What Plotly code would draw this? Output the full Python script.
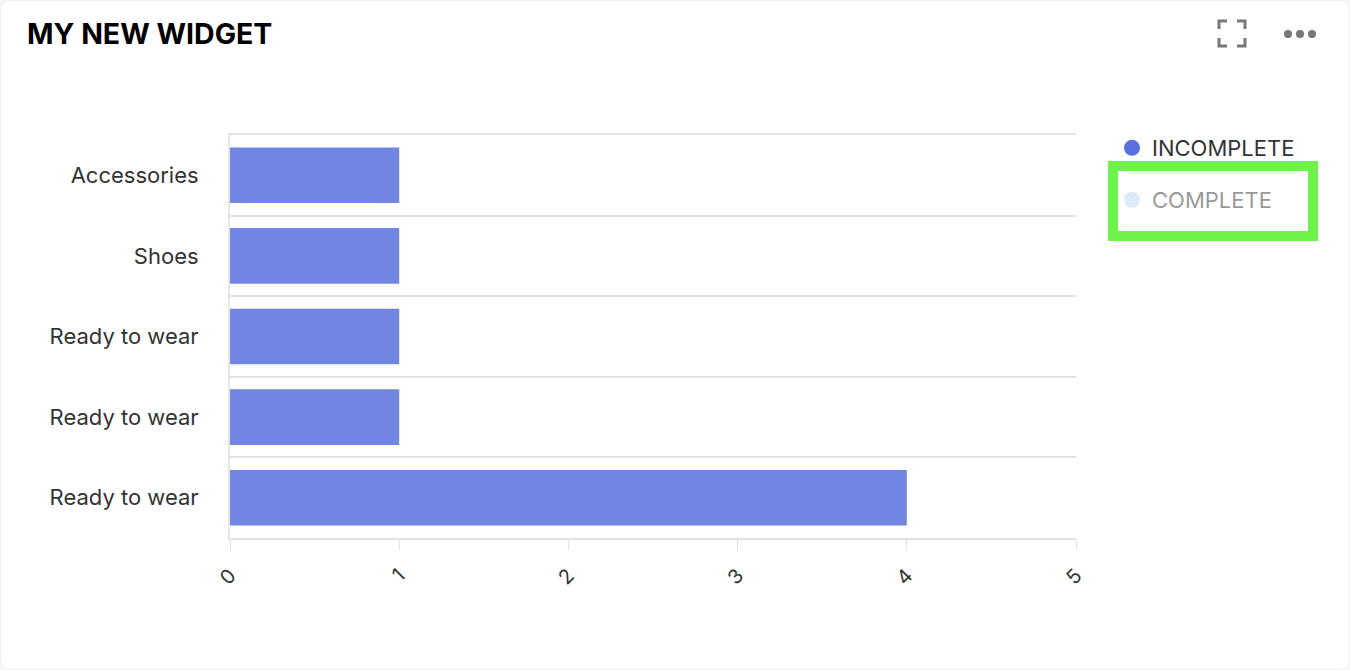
import plotly.graph_objects as go

categories = ["Accessories", "Shoes", "Ready to wear", "Ready to wear", "Ready to wear"]
incomplete = [1, 1, 1, 1, 4]
complete = [0, 0, 0, 0, 0]
x_ticks = [0, 1, 2, 3, 4, 5]

W, H = 1350, 670
# plot area in pixels
L, R, T, B = 230, 1076, 135, 538


def px(x):
    return (x - L) / (R - L)


def py(y):
    return (B - y) / (B - T)


rows = list(range(len(categories)))

fig = go.Figure()

# bars
fig.add_trace(go.Bar(
    y=rows, x=incomplete, orientation="h", name="INCOMPLETE",
    marker=dict(color="#7086e2", line=dict(width=0)),
    width=0.69, showlegend=False, legendgroup="inc",
))
fig.add_trace(go.Bar(
    y=rows, x=complete, orientation="h", name="COMPLETE",
    marker=dict(color="#dce9f9"), width=0.69, showlegend=False,
    legendgroup="comp", visible="legendonly",
))

# legend entries with round markers
fig.add_trace(go.Scatter(
    x=[None], y=[None], mode="markers", name="INCOMPLETE", legendgroup="inc",
    marker=dict(color="#5a6fe0", size=18, symbol="circle"), legend="legend",
))
fig.add_trace(go.Scatter(
    x=[None], y=[None], mode="markers", name="COMPLETE", legendgroup="comp",
    marker=dict(color="#bcd6f5", size=18, symbol="circle"), legend="legend2",
    visible="legendonly",
))

font = "Inter, Lato, sans-serif"

shapes = []
# card outline with rounded corners
r = 10
x0, x1, y0, y1 = 0.5, 1349.5, 0.5, 669.5
card = ("M {a},{b} L {c},{b} Q {d},{b} {d},{e} L {d},{f} Q {d},{g} {c},{g} "
        "L {a},{g} Q {h},{g} {h},{f} L {h},{e} Q {h},{b} {a},{b} Z").format(
    a=px(x0 + r), b=py(y0), c=px(x1 - r), d=px(x1), e=py(y0 + r),
    f=py(y1 - r), g=py(y1), h=px(x0))
shapes.append(dict(
    type="path", xref="paper", yref="paper", layer="below", path=card,
    line=dict(color="#efeff2", width=1), fillcolor="white",
))
# green highlight box
shapes.append(dict(
    type="rect", xref="paper", yref="paper",
    x0=px(1113), x1=px(1313), y0=py(166), y1=py(236),
    line=dict(color="#6ff24b", width=10),
))
# expand icon
icon = "#777777"
for (cx, cy, dx, dy) in [(1219, 21, 1, 1), (1245, 21, -1, 1), (1219, 46, 1, -1), (1245, 46, -1, -1)]:
    shapes.append(dict(
        type="path", xref="paper", yref="paper",
        path="M {a},{b} L {c},{d} L {e},{f}".format(
            a=px(cx), b=py(cy + 8 * dy), c=px(cx), d=py(cy), e=px(cx + 8 * dx), f=py(cy)),
        line=dict(color=icon, width=3),
    ))
# menu dots
for cx in [1288, 1300, 1312]:
    shapes.append(dict(
        type="circle", xref="paper", yref="paper",
        x0=px(cx - 4), x1=px(cx + 4), y0=py(38), y1=py(30),
        fillcolor=icon, line=dict(width=0),
    ))

fig.update_layout(
    width=W, height=H,
    margin=dict(l=L, r=W - R, t=T, b=H - B, pad=0),
    paper_bgcolor="#f6f6f8", plot_bgcolor="white",
    font=dict(family=font, color="#333333"),
    title=dict(
        text="<b>MY NEW WIDGET</b>", xref="container", yref="container",
        x=27 / W, xanchor="left", y=1 - 34 / H, yanchor="middle",
        font=dict(size=28.5, color="#000000", family=font),
    ),
    barmode="overlay",
    bargap=0.31,
    xaxis=dict(
        range=[0, 5], tickvals=x_ticks, ticktext=[str(v) for v in x_ticks],
        tickangle=-45, tickfont=dict(size=20, color="#333333"),
        showgrid=False, zeroline=False,
        showline=True, mirror=True, linecolor="#e2e2e2", linewidth=2,
        ticks="outside", ticklen=10, tickcolor="#e2e2e2", tickwidth=1,
        ticklabelstandoff=6,
        fixedrange=True,
    ),
    yaxis=dict(
        range=[len(categories) - 0.5, -0.5],
        tickvals=rows, ticktext=categories,
        tickfont=dict(size=22, color="#333333"),
        showgrid=False, zeroline=False, ticks="",
        showline=True, linecolor="#e6e6e6", linewidth=2,
        ticklabelstandoff=25,
        minor=dict(tickvals=[r - 0.5 for r in rows], showgrid=True,
                   gridcolor="#e2e2e2", gridwidth=2),
        fixedrange=True,
    ),
    legend=dict(
        x=px(1112), xanchor="left", y=py(148), yanchor="middle",
        font=dict(size=22, color="#333333"), bgcolor="rgba(0,0,0,0)",
        itemclick=False, itemdoubleclick=False,
    ),
    legend2=dict(
        x=px(1112), xanchor="left", y=py(200), yanchor="middle",
        font=dict(size=22, color="#333333"), bgcolor="rgba(0,0,0,0)",
        itemclick=False, itemdoubleclick=False,
    ),
    shapes=shapes,
)

fig.write_html("out.html", config={"displayModeBar": False},
               post_script="document.body.style.margin='0';")
